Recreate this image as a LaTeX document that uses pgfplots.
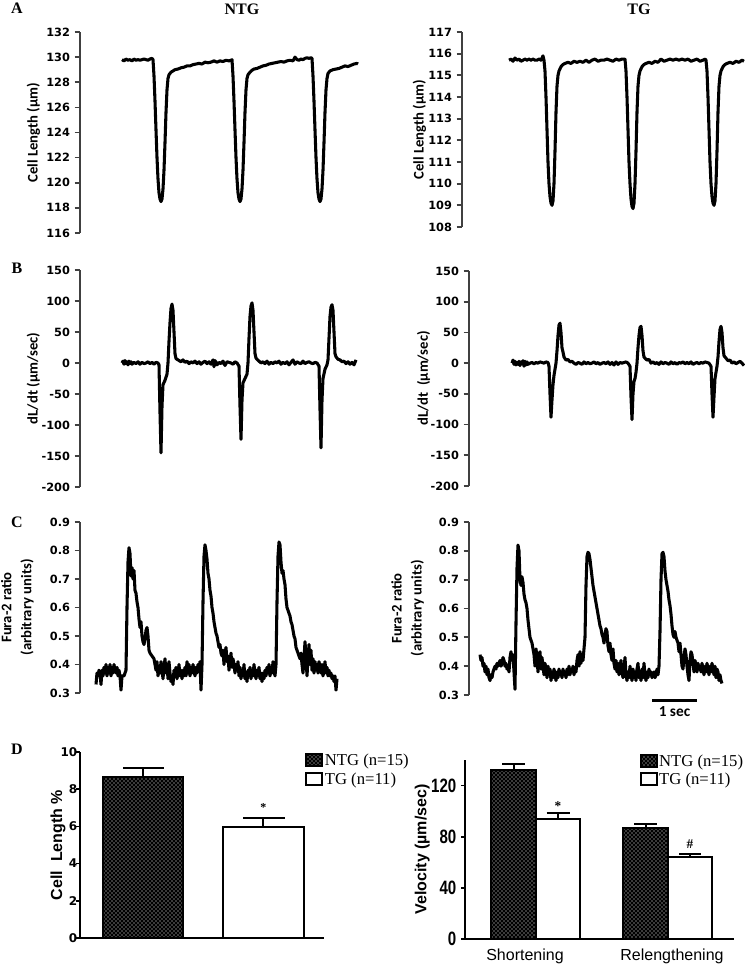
\documentclass[border=0pt]{standalone}
\usepackage{pgfplots}
\pgfplotsset{compat=1.18}
\usepackage{fontspec}
\usetikzlibrary{patterns}
\setmainfont{Liberation Serif}
\newfontfamily\carlito{Carlito}
\newfontfamily\arial{Liberation Sans}
\newfontfamily\dejavu{DejaVu Sans}
\newfontfamily\arialn[FakeStretch=0.78]{Liberation Sans}

\pgfplotsset{
  tr/.style={scale only axis, axis x line=none, axis y line*=left, xtick=\empty,
    clip=false,
    /pgf/number format/assume math mode=true,
    y axis line style={line width=1.8pt, black!75},
    ytick style={line width=1.3pt, black!75},
    tick align=outside, major tick length=4pt,
    yticklabel style={font=\dejavu\bfseries\fontsize{8.5}{10}\selectfont},
    ylabel style={font=\carlito\bfseries\fontsize{11}{15}\selectfont, align=center},
  },
  yl/.style={ylabel style={at={([xshift=-#1]axis description cs:0,0.5)}, anchor=center}},
  trace/.style={black, line width=2.3pt, line join=round, no marks},
  bx/.style={scale only axis, axis x line*=bottom, axis y line*=left, clip=false,
    /pgf/number format/assume math mode=true,
    axis line style={line width=1.5pt, black},
    tick align=outside, major tick length=3pt,
    ytick style={line width=1.3pt, black},
    legend style={draw=none, fill=none, inner sep=0pt, font=\fontsize{12.5}{15}\selectfont, row sep=2pt,
      cells={anchor=west}, nodes={inner xsep=1.2pt, inner ysep=1pt}},
    legend image code/.code={\draw[#1] (0pt,-4pt) rectangle (12pt,5pt);},
  },
  ntg/.style={ybar, bar shift=0pt, draw=black, line width=1.5pt, fill=black,
    postaction={pattern=crosshatch dots, pattern color=white}},
  tg/.style={ybar, bar shift=0pt, draw=black, line width=1.5pt, fill=white},
  eb/.style={black, line width=1.5pt, forget plot, no marks},
}

\begin{document}
\begin{tikzpicture}
\path[use as bounding box] (0,0) rectangle (558.75pt,723.75pt);

% titles and panel letters
\node[font=\bfseries\fontsize{12}{14}\selectfont] at (181.5pt,717pt) {NTG};
\node[font=\bfseries\fontsize{12}{14}\selectfont] at (479.25pt,717pt) {TG};
\node[font=\bfseries\fontsize{12}{14}\selectfont] at (12.75pt,717.75pt) {A};
\node[font=\bfseries\fontsize{12}{14}\selectfont] at (12.75pt,522.75pt) {B};
\node[font=\bfseries\fontsize{12}{14}\selectfont] at (12.75pt,332.25pt) {C};
\node[font=\bfseries\fontsize{12}{14}\selectfont] at (12.75pt,162pt) {D};

% ---------------- A left
\begin{axis}[tr, yl=35pt, at={(60pt,549pt)}, anchor=south west, width=211.5pt, height=150.75pt,
  xmin=80, xmax=362, ymin=116, ymax=132, ytick={116,118,...,132},
  ylabel={Cell Length (µm)}]
\addplot[trace] coordinates {
(122,129.8)(124,129.7)(126,129.85)(128,129.75)(130,129.8)(132,129.7)(134,129.85)(136,129.75)(138,129.8)(140,129.75)(142,129.8)(144,129.85)(146,129.8)(148,129.75)(150,129.85)(152,129.9)
(153,129.8)(154,128.5)(155,126.5)(156,124.2)(157,122.0)(158,120.3)(159,119.2)(160,118.7)(161,118.5)(162,118.7)(163,119.5)(164,121.0)(165,123.2)(166,125.6)(167,127.4)(168,128.3)(169,128.6)(171,128.8)(173,128.9)(175,129.0)(178,129.05)(181,129.15)(184,129.2)(187,129.3)(190,129.3)(193,129.4)(196,129.45)(199,129.5)(202,129.45)(205,129.6)(208,129.55)(211,129.6)(214,129.7)(217,129.6)(220,129.7)(223,129.65)(226,129.75)(229,129.7)(231,129.75)
(232,129.8)(233,128.5)(234,126.5)(235,124.2)(236,122.0)(237,120.3)(238,119.2)(239,118.7)(240,118.5)(241,118.7)(242,119.5)(243,121.0)(244,123.2)(245,125.6)(246,127.4)(247,128.3)(248,128.6)(250,128.8)(252,128.95)(254,129.05)(257,129.1)(260,129.2)(263,129.3)(266,129.35)(269,129.45)(272,129.5)(275,129.55)(278,129.6)(281,129.65)(284,129.6)(287,129.7)(290,129.75)(293,129.7)(295,130.0)(297,129.8)(299,129.75)(301,129.85)(303,129.8)(305,129.9)(307,129.95)(309,129.9)(311,129.95)
(312,129.9)(313,128.5)(314,126.5)(315,124.2)(316,122.0)(317,120.3)(318,119.2)(319,118.7)(320,118.5)(321,118.7)(322,119.5)(323,121.0)(324,123.2)(325,125.6)(326,127.4)(327,128.3)(328,128.7)(330,128.9)(333,129.0)(336,129.05)(339,129.1)(342,129.2)(345,129.3)(348,129.25)(351,129.35)(354,129.45)(357,129.5)(358,129.45)
};
\end{axis}

% ---------------- A right
\begin{axis}[tr, yl=32pt, at={(346.5pt,553.5pt)}, anchor=south west, width=212.25pt, height=146.25pt,
  xmin=462, xmax=745, ymin=108, ymax=117, ytick={108,109,...,117},
  ylabel={Cell Length (µm)}]
\addplot[trace] coordinates {
(509,115.7)(511,115.75)(513,115.65)(515,115.8)(517,115.7)(519,115.75)(521,115.65)(523,115.7)(525,115.75)(527,115.7)(529,115.75)(531,115.7)(533,115.75)(535,115.7)(537,115.7)(539,115.75)(541,115.7)(543,115.9)(544,115.7)
(545,115.2)(546,114.0)(547,112.5)(548,111.0)(549,110.0)(550,109.4)(551,109.1)(552,109.0)(553,109.2)(554,110.0)(555,111.5)(556,113.3)(557,114.5)(558,115.0)(559,115.2)(561,115.4)(563,115.5)(565,115.55)(568,115.6)(571,115.55)(574,115.65)(577,115.6)(580,115.65)(583,115.6)(586,115.7)(589,115.6)(592,115.7)(595,115.75)(598,115.65)(601,115.7)(604,115.7)(607,115.75)(610,115.7)(613,115.65)(616,115.75)(619,115.7)(622,115.75)(625,115.75)
(626,115.2)(627,114.0)(628,112.5)(629,111.0)(630,110.0)(631,109.3)(632,108.95)(633,108.85)(634,109.1)(635,110.0)(636,111.5)(637,113.3)(638,114.5)(639,115.0)(640,115.2)(642,115.4)(644,115.5)(646,115.55)(649,115.6)(652,115.55)(655,115.65)(658,115.6)(661,115.75)(664,115.65)(667,115.7)(670,115.75)(673,115.7)(676,115.75)(679,115.7)(682,115.75)(685,115.7)(688,115.75)(691,115.65)(694,115.7)(697,115.75)(700,115.65)(703,115.7)(705,115.75)(706,115.7)
(707,115.2)(708,114.0)(709,112.5)(710,111.0)(711,110.0)(712,109.4)(713,109.1)(714,109.0)(715,109.2)(716,110.0)(717,111.5)(718,113.3)(719,114.5)(720,115.0)(721,115.2)(723,115.4)(725,115.5)(727,115.55)(730,115.6)(733,115.55)(736,115.65)(739,115.6)(742,115.7)(744,115.65)
};
\end{axis}

% ---------------- B left
\begin{axis}[tr, yl=35pt, at={(60pt,358.5pt)}, anchor=south west, width=211.5pt, height=162.75pt,
  xmin=80, xmax=362, ymin=-200, ymax=150, ytick={-200,-150,...,150},
  ylabel={dL/dt (µm/sec)}]
\addplot[trace] coordinates {
(122,0)(123,3)(124,-2)(125,4)(126,-1)(127,2)(128,-3)(129,3)(130,-1)(131,2)(132,-2)(134,1)(136,-1)(138,2)(140,-2)(142,1)(144,-1)(146,0)(148,2)(150,-1)(152,1)(154,-2)(156,1)(158,0)(159,-3)
(160,-80)(161,-145)(162,-70)(163,-35)(165,-28)(167,-18)(168,0)(169,35)(170,65)(171,88)(172,95)(173,85)(174,50)(175,15)(176,7)(177,6)(179,4)(181,2)(183,5)(185,1)(187,3)(189,-1)(191,2)(193,0)(195,3)(197,-1)(199,2)(201,-2)(203,1)(205,3)(207,-1)(209,2)(211,-2)(213,5)(214,-6)(215,4)(217,-3)(219,1)(221,-1)(223,3)(225,-4)(227,2)(229,1)(231,0)(233,-2)(235,2)(237,0)(239,-5)
(240,-70)(241,-123)(242,-60)(243,-32)(245,-25)(247,-18)(248,0)(249,40)(250,75)(251,92)(252,97)(253,85)(254,50)(255,15)(256,8)(257,6)(259,3)(261,0)(263,2)(265,-1)(267,3)(269,-2)(271,1)(273,-1)(275,2)(277,0)(279,3)(281,-2)(283,1)(285,-1)(287,2)(289,-3)(291,1)(293,5)(295,-2)(297,2)(299,0)(301,-1)(303,3)(305,-1)(307,1)(309,2)(311,0)(313,-1)(315,1)(317,0)(319,-5)
(320,-75)(321,-137)(322,-60)(323,-25)(325,-10)(327,-3)(328,5)(329,40)(330,75)(331,90)(332,94)(333,85)(334,50)(335,15)(336,10)(338,6)(340,5)(342,2)(344,3)(346,-1)(348,2)(350,-2)(352,1)(354,-3)(356,5)
};
\end{axis}

% ---------------- B right
\begin{axis}[tr, yl=34pt, at={(351.75pt,359.25pt)}, anchor=south west, width=207pt, height=161.25pt,
  xmin=469, xmax=745, ymin=-200, ymax=150, ytick={-200,-150,...,150},
  ylabel={dL/dt\ \ (µm/sec)}]
\addplot[trace] coordinates {
(512,0)(513,5)(514,-2)(515,3)(516,-3)(517,1)(518,-2)(519,3)(520,-4)(521,2)(522,-1)(523,4)(524,-5)(525,3)(526,-3)(527,2)(528,-2)(530,0)(532,1)(534,-1)(536,1)(538,0)(540,2)(542,1)(544,0)(546,2)(548,1)(549,-5)
(550,-50)(551,-88)(552,-60)(553,-35)(554,-20)(555,-10)(556,0)(557,20)(558,45)(559,62)(560,65)(561,50)(562,25)(563,18)(564,10)(566,5)(568,6)(570,2)(572,3)(574,0)(576,-2)(578,1)(580,0)(582,-2)(584,2)(586,-1)(588,1)(590,-1)(592,0)(594,2)(596,-1)(598,1)(600,-2)(602,0)(604,1)(606,-1)(608,2)(610,-2)(612,1)(614,-3)(616,2)(618,-2)(620,1)(622,0)(624,1)(626,2)(628,0)(630,-5)
(631,-55)(632,-92)(633,-50)(634,-30)(635,-25)(636,-15)(637,0)(638,25)(639,45)(640,58)(641,60)(642,45)(643,20)(644,10)(645,8)(647,5)(649,6)(651,0)(653,2)(655,-1)(657,1)(659,-2)(661,2)(663,-1)(665,1)(667,0)(669,-2)(671,2)(673,-1)(675,1)(677,-2)(679,1)(681,0)(683,2)(685,-1)(687,1)(689,-1)(691,2)(693,-2)(695,0)(697,1)(699,-1)(701,1)(703,0)(705,2)(707,1)(709,0)(711,-5)
(712,-50)(713,-88)(714,-55)(715,-25)(716,-15)(717,-5)(718,10)(719,35)(720,55)(721,60)(722,50)(723,25)(724,12)(726,8)(728,4)(730,5)(732,0)(734,2)(736,-1)(738,1)(740,3)(742,0)(744,-4)
};
\end{axis}

% ---------------- C left
\begin{axis}[tr, yl=47pt, at={(60pt,204pt)}, anchor=south west, width=195pt, height=128.25pt,
  xmin=80, xmax=340, ymin=0.3, ymax=0.9, ytick={0.3,0.4,0.5,0.6,0.7,0.8,0.9},
  yticklabel style={/pgf/number format/.cd, fixed, fixed zerofill, precision=1},
  ylabel={Fura-2 ratio\\(arbitrary units)}]
\addplot[trace] coordinates {
(96,0.33)(97,0.37)(98,0.36)(99,0.38)(100,0.37)(101,0.33)(102,0.38)(103,0.36)(104,0.39)(105,0.37)(106,0.40)(107,0.36)(108,0.39)(109,0.37)(110,0.40)(111,0.36)(112,0.39)(113,0.37)(114,0.40)(115,0.38)(116,0.37)(117,0.39)(118,0.36)(119,0.38)(120,0.36)(121,0.31)(122,0.36)(124,0.36)(125,0.37)(126,0.38)
(127,0.60)(128,0.76)(129,0.81)(130,0.79)(131,0.71)(132,0.74)(133,0.70)(134,0.73)(135,0.66)(136,0.65)(137,0.62)(138,0.60)(139,0.56)(140,0.53)(141,0.55)(142,0.50)(143,0.48)(144,0.47)(145,0.49)(146,0.52)(147,0.53)(148,0.50)(149,0.45)(150,0.44)(152,0.43)(154,0.42)(155,0.40)(156,0.38)(157,0.41)(158,0.36)(159,0.39)(160,0.37)(161,0.41)(162,0.38)(163,0.35)(164,0.39)(165,0.42)(166,0.37)(167,0.40)(168,0.35)(169,0.41)(170,0.37)(171,0.34)(172,0.36)(173,0.33)(174,0.38)(175,0.36)(176,0.39)(177,0.35)(178,0.37)(179,0.40)(180,0.36)(181,0.38)(182,0.35)(183,0.38)(184,0.36)(185,0.39)(186,0.36)(187,0.41)(188,0.37)(189,0.40)(190,0.36)(191,0.39)(192,0.37)(193,0.40)(194,0.38)(195,0.36)(196,0.39)(197,0.37)(198,0.40)(199,0.38)(200,0.41)(201,0.31)(202,0.40)
(203,0.62)(204,0.78)(205,0.82)(206,0.80)(207,0.77)(208,0.72)(209,0.70)(210,0.66)(211,0.64)(212,0.60)(213,0.58)(214,0.55)(215,0.53)(216,0.51)(217,0.50)(218,0.48)(219,0.46)(220,0.47)(221,0.44)(222,0.43)(223,0.45)(224,0.40)(225,0.44)(226,0.46)(227,0.41)(228,0.43)(229,0.38)(230,0.41)(231,0.44)(232,0.39)(233,0.42)(234,0.40)(235,0.37)(236,0.40)(237,0.38)(238,0.41)(239,0.36)(240,0.39)(241,0.35)(242,0.38)(243,0.36)(244,0.40)(245,0.35)(246,0.37)(247,0.34)(248,0.38)(249,0.36)(250,0.39)(251,0.35)(252,0.38)(253,0.36)(254,0.40)(255,0.37)(256,0.35)(257,0.38)(258,0.36)(259,0.39)(260,0.35)(261,0.37)(262,0.34)(263,0.37)(264,0.35)(265,0.38)(266,0.36)(267,0.39)(268,0.37)(269,0.40)(270,0.36)(271,0.39)(272,0.37)(273,0.41)(274,0.38)(275,0.36)(276,0.40)
(277,0.62)(278,0.78)(279,0.83)(280,0.82)(281,0.76)(282,0.72)(283,0.73)(284,0.70)(285,0.68)(286,0.63)(287,0.60)(288,0.59)(289,0.58)(290,0.57)(291,0.55)(292,0.54)(293,0.52)(294,0.50)(295,0.49)(296,0.46)(297,0.45)(298,0.44)(299,0.43)(300,0.42)(301,0.44)(302,0.40)(303,0.37)(304,0.42)(305,0.48)(306,0.43)(307,0.36)(308,0.42)(309,0.47)(310,0.40)(311,0.45)(312,0.38)(313,0.42)(314,0.37)(315,0.41)(316,0.38)(317,0.40)(318,0.37)(319,0.41)(320,0.39)(321,0.37)(322,0.40)(323,0.36)(324,0.38)(325,0.41)(326,0.37)(327,0.39)(328,0.36)(329,0.38)(330,0.36)(331,0.37)(332,0.35)(333,0.36)(334,0.34)(335,0.36)(336,0.31)(337,0.35)
};
\end{axis}

% ---------------- C right
\begin{axis}[tr, yl=46pt, at={(351.75pt,202.5pt)}, anchor=south west, width=207pt, height=129.75pt,
  xmin=469, xmax=745, ymin=0.3, ymax=0.9, ytick={0.3,0.4,0.5,0.6,0.7,0.8,0.9},
  yticklabel style={/pgf/number format/.cd, fixed, fixed zerofill, precision=1},
  ylabel={Fura-2 ratio\\(arbitrary units)}]
\addplot[trace] coordinates {
(480,0.44)(481,0.42)(482,0.43)(483,0.40)(484,0.41)(485,0.38)(486,0.40)(487,0.37)(488,0.39)(489,0.36)(490,0.35)(491,0.37)(492,0.36)(493,0.38)(494,0.39)(495,0.40)(496,0.39)(497,0.41)(498,0.40)(499,0.41)(500,0.42)(501,0.40)(502,0.41)(503,0.43)(504,0.42)(505,0.40)(506,0.41)(507,0.39)(508,0.40)(509,0.38)(510,0.43)(511,0.45)(512,0.42)(513,0.44)(514,0.38)(515,0.32)
(516,0.55)(517,0.74)(518,0.82)(519,0.80)(520,0.70)(521,0.68)(522,0.71)(523,0.69)(524,0.65)(525,0.63)(526,0.62)(527,0.60)(528,0.56)(529,0.53)(530,0.50)(531,0.49)(532,0.48)(533,0.46)(534,0.44)(535,0.40)(536,0.46)(537,0.43)(538,0.38)(539,0.44)(540,0.45)(541,0.39)(542,0.43)(543,0.40)(544,0.37)(545,0.41)(546,0.39)(547,0.36)(548,0.40)(549,0.37)(550,0.39)(551,0.35)(552,0.38)(553,0.36)(554,0.39)(555,0.37)(556,0.35)(557,0.38)(558,0.36)(559,0.39)(560,0.37)(561,0.38)(562,0.36)(563,0.39)(564,0.37)(565,0.38)(566,0.36)(567,0.39)(568,0.37)(569,0.40)(570,0.37)(571,0.39)(572,0.38)(573,0.40)(574,0.37)(575,0.39)(576,0.38)(577,0.42)(578,0.44)(579,0.40)(580,0.45)(581,0.41)(582,0.44)(583,0.42)(584,0.46)
(585,0.50)(586,0.68)(587,0.78)(588,0.795)(589,0.79)(590,0.77)(591,0.74)(592,0.71)(593,0.68)(594,0.66)(595,0.64)(596,0.62)(597,0.60)(598,0.58)(599,0.56)(600,0.54)(601,0.53)(602,0.51)(603,0.50)(604,0.48)(605,0.51)(606,0.53)(607,0.52)(608,0.47)(609,0.45)(610,0.48)(611,0.44)(612,0.42)(613,0.46)(614,0.41)(615,0.39)(616,0.42)(617,0.38)(618,0.41)(619,0.37)(620,0.40)(621,0.42)(622,0.38)(623,0.36)(624,0.39)(625,0.43)(626,0.37)(627,0.35)(628,0.38)(629,0.36)(630,0.40)(631,0.37)(632,0.35)(633,0.39)(634,0.36)(635,0.38)(636,0.35)(637,0.39)(638,0.41)(639,0.36)(640,0.38)(641,0.35)(642,0.39)(643,0.36)(644,0.41)(645,0.37)(646,0.35)(647,0.38)(648,0.36)(649,0.39)(650,0.37)(651,0.38)(652,0.36)(653,0.37)(654,0.38)(655,0.36)(656,0.37)(657,0.39)(658,0.37)(659,0.40)
(660,0.52)(661,0.70)(662,0.79)(663,0.795)(664,0.78)(665,0.73)(666,0.70)(667,0.68)(668,0.66)(669,0.63)(670,0.61)(671,0.58)(672,0.54)(673,0.51)(674,0.50)(675,0.52)(676,0.50)(677,0.49)(678,0.48)(679,0.45)(680,0.48)(681,0.44)(682,0.40)(683,0.39)(684,0.43)(685,0.46)(686,0.44)(687,0.40)(688,0.37)(689,0.35)(690,0.42)(691,0.45)(692,0.44)(693,0.41)(694,0.38)(695,0.42)(696,0.40)(697,0.38)(698,0.41)(699,0.39)(700,0.40)(701,0.38)(702,0.41)(703,0.39)(704,0.37)(705,0.40)(706,0.38)(707,0.41)(708,0.39)(709,0.37)(710,0.40)(711,0.38)(712,0.41)(713,0.39)(714,0.37)(715,0.40)(716,0.36)(717,0.39)(718,0.38)(719,0.35)(720,0.37)(721,0.35)(722,0.34)
};
% scale bar
\addplot[black, line width=2.4pt, no marks, forget plot] coordinates {(652,0.28)(697,0.28)};
\node[font=\carlito\bfseries\fontsize{11.5}{12}\selectfont] at (axis cs:674.5,0.243) {1 sec};
\end{axis}

% ---------------- D left
\begin{axis}[bx, at={(60pt,20.25pt)}, anchor=south west, width=183pt, height=139.5pt,
  xmin=80, xmax=324, ymin=0, ymax=10, ytick={0,2,...,10}, xtick=\empty,
  yticklabel style={font=\dejavu\bfseries\fontsize{9}{10}\selectfont, xshift=4.5pt},
  ylabel={Cell\ \ Length \%}, ylabel style={font=\arial\bfseries\fontsize{12}{13}\selectfont,
    at={([xshift=-16.5pt]axis description cs:0,0.5)}, anchor=center},
  legend style={at={(0.922,0.997)}, anchor=north west}]
\addplot[ntg, bar width=80.6] coordinates {(143,8.67)};
\addplot[tg, bar width=81.3] coordinates {(263.3,5.98)};
\addplot[eb] coordinates {(143,8.67)(143,9.16)};
\addplot[eb] coordinates {(123,9.16)(164,9.16)};
\addplot[eb] coordinates {(263.3,5.98)(263.3,6.43)};
\addplot[eb] coordinates {(243,6.43)(285,6.43)};
\node[font=\bfseries\fontsize{9}{10}\selectfont] at (axis cs:263.3,7.0) {*};
\legend{NTG (n=15), TG (n=11)}
\end{axis}

% ---------------- D right
\begin{axis}[bx, at={(348.75pt,19.5pt)}, anchor=south west, width=201.75pt, height=134.25pt,
  xmin=465, xmax=734, ymin=0, ymax=140, ytick={0,40,80,120},
  xtick={525,672}, xticklabels={Shortening,Relengthening}, xtick style={draw=none},
  xticklabel style={font=\arial\fontsize{12}{13}\selectfont, yshift=-1pt},
  yticklabel style={font=\arialn\bfseries\fontsize{14.5}{15}\selectfont},
  ylabel={Velocity (µm/sec)}, ylabel style={font=\arial\bfseries\fontsize{12}{13}\selectfont,
    at={([xshift=-32pt]axis description cs:0,0.5)}, anchor=center},
  legend style={at={(0.648,1.04)}, anchor=north west}]
\addplot[ntg, bar width=44.5] coordinates {(513.5,132)(645.5,86.8)};
\addplot[tg, bar width=44.5] coordinates {(558,93.9)(690,64.3)};
\addplot[eb] coordinates {(513.5,132)(513.5,136.5)};
\addplot[eb] coordinates {(502,136.5)(525,136.5)};
\addplot[eb] coordinates {(558,93.9)(558,98.5)};
\addplot[eb] coordinates {(546.5,98.5)(569.5,98.5)};
\addplot[eb] coordinates {(645.5,86.8)(645.5,90)};
\addplot[eb] coordinates {(634,90)(657,90)};
\addplot[eb] coordinates {(690,64.3)(690,66.8)};
\addplot[eb] coordinates {(679,66.8)(701,66.8)};
\node[font=\bfseries\fontsize{10}{11}\selectfont] at (axis cs:558,104) {*};
\node[font=\bfseries\fontsize{10}{11}\selectfont] at (axis cs:690,74) {\#};
\legend{NTG (n=15), TG (n=11)}
\end{axis}
\end{tikzpicture}
\end{document}
